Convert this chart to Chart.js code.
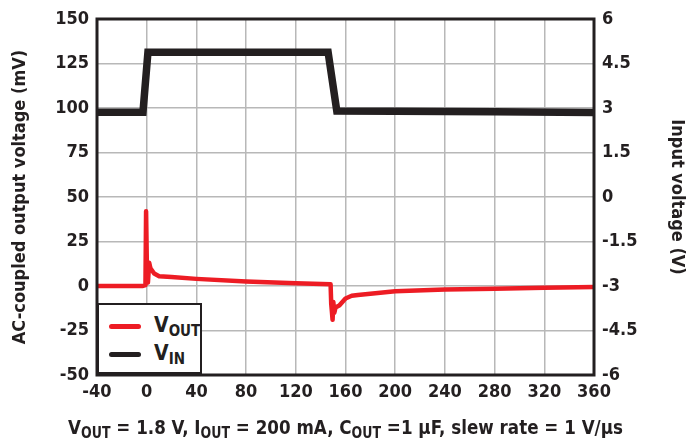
<!DOCTYPE html>
<html>
<head>
<meta charset="utf-8">
<script src="https://cdn.jsdelivr.net/npm/chart.js@4.4.1/dist/chart.umd.min.js"></script>
<style>
  html, body { margin: 0; padding: 0; background: #fff; }
  #wrap { position: relative; width: 691px; height: 446px; }
  canvas { position: absolute; left: 0; top: 0; }
  .narrow { font-family: 'Liberation Sans Narrow', 'DejaVu Sans Condensed', 'Arial Narrow', sans-serif; font-weight: bold; color: #231f20; }
  #xtitle { position: absolute; left: 0; width: 691px; top: 415px; text-align: center; font-size: 20px; transform: scaleX(0.93); transform-origin: 346px 0; }
  #xtitle sub { font-size: 15px; vertical-align: -4px; line-height: 0; }
  #legend { position: absolute; left: 97px; top: 303px; width: 101px; height: 67px; border: 2px solid #231f20; background: #fff; font-size: 21px; }
  #legend .row { position: absolute; left: 10px; height: 24px; }
  #legend .line { position: absolute; left: 0; top: 11px; width: 32px; height: 5px; border-radius: 3px; }
  #legend .lab { position: absolute; left: 45px; top: 0; white-space: nowrap; }
  #legend sub { font-size: 15px; vertical-align: -4px; line-height: 0; }
</style>
</head>
<body>
<div id="wrap">
  <canvas id="chart" width="691" height="446"></canvas>
  <div id="legend" class="narrow">
    <div class="row" style="top:8px"><div class="line" style="background:#ed1c24"></div><div class="lab">V<sub>OUT</sub></div></div>
    <div class="row" style="top:36px"><div class="line" style="background:#231f20"></div><div class="lab">V<sub>IN</sub></div></div>
  </div>
  <div id="xtitle" class="narrow">V<sub>OUT</sub> = 1.8 V, I<sub>OUT</sub> = 200 mA, C<sub>OUT</sub> =1 µF, slew rate = 1 V/µs</div>
</div>
<script>
// Values
const xTicks = [-40, 0, 40, 80, 120, 160, 200, 240, 280, 320, 360];
const leftTicks = [-50, -25, 0, 25, 50, 75, 100, 125, 150];
const rightTicks = [-6, -4.5, -3, -1.5, 0, 1.5, 3, 4.5, 6];

// Input voltage step (V)
const vinTime = [-40, -3, 1, 146, 153, 200, 280, 360];
const vinValues = [2.86, 2.86, 4.88, 4.88, 2.9, 2.89, 2.87, 2.85];

// AC-coupled output voltage (mV)
const voutTime = [-40, -3, -1, -0.5, 0.3, 1, 2, 3, 6, 10, 20, 40, 80, 120, 148, 148.5, 149, 149.6, 150.2, 151, 152, 155, 160, 165, 170, 200, 240, 280, 320, 360];
const voutValues = [0, 0, 0.5, 42, 4, 2, 13, 10, 7, 5.5, 5, 4, 2.5, 1.5, 1, -10, -14, -19, -9, -15, -12, -11, -7, -5.5, -5, -3, -2, -1.5, -1, -0.5];

const FONT = "'Liberation Sans Narrow', 'DejaVu Sans Condensed', 'Arial Narrow', sans-serif";
const INK = '#231f20';

const toPoints = (xs, ys) => xs.map((x, i) => ({ x: x, y: ys[i] }));

// Black frame round the plot area
const framePlugin = {
  id: 'frame',
  afterDraw(chart) {
    const a = chart.chartArea;
    const ctx = chart.ctx;
    ctx.save();
    ctx.strokeStyle = INK;
    ctx.lineWidth = 3;
    ctx.strokeRect(a.left, a.top, a.right - a.left, a.bottom - a.top);
    ctx.restore();
  }
};

new Chart(document.getElementById('chart').getContext('2d'), {
  type: 'line',
  data: {
    datasets: [
      {
        label: 'VIN',
        data: toPoints(vinTime, vinValues),
        yAxisID: 'y1',
        borderColor: INK,
        borderWidth: 7.5,
        pointRadius: 0,
        tension: 0,
      },
      {
        label: 'VOUT',
        data: toPoints(voutTime, voutValues),
        yAxisID: 'y',
        borderColor: '#ed1c24',
        borderWidth: 4.5,
        pointRadius: 0,
        tension: 0,
        borderJoinStyle: 'round',
      },
    ],
  },
  options: {
    responsive: false,
    animation: false,
    layout: { padding: { top: 19 } },
    plugins: {
      legend: { display: false },
      tooltip: { enabled: false },
    },
    scales: {
      x: {
        type: 'linear',
        min: -40,
        max: 360,
        afterBuildTicks: (s) => { s.ticks = xTicks.map(v => ({ value: v })); },
        afterFit: (s) => { s.height = 71; },
        ticks: { color: INK, font: { family: FONT, size: 18, weight: 'bold' }, padding: 7, maxRotation: 0 },
        grid: { color: '#b8b8b8', lineWidth: 1.5, drawTicks: false },
        border: { display: false },
      },
      y: {
        position: 'left',
        min: -50,
        max: 150,
        afterBuildTicks: (s) => { s.ticks = leftTicks.map(v => ({ value: v })); },
        afterFit: (s) => { s.width = 97; },
        ticks: { color: INK, font: { family: FONT, size: 18, weight: 'bold' }, padding: 8 },
        grid: { color: '#b8b8b8', lineWidth: 1.5, drawTicks: false },
        border: { display: false },
        title: { display: true, text: 'AC-coupled output voltage (mV)', color: INK, font: { family: FONT, size: 18, weight: 'bold' }, padding: { top: 10, bottom: 0 } },
      },
      y1: {
        position: 'right',
        min: -6,
        max: 6,
        afterBuildTicks: (s) => { s.ticks = rightTicks.map(v => ({ value: v })); },
        afterFit: (s) => { s.width = 97; },
        ticks: { color: INK, font: { family: FONT, size: 18, weight: 'bold' }, padding: 8 },
        grid: { display: false, drawTicks: false },
        border: { display: false },
        title: { display: true, text: 'Input voltage (V)', color: INK, font: { family: FONT, size: 18, weight: 'bold' }, padding: { top: 4, bottom: 0 } },
      },
    },
  },
  plugins: [framePlugin],
});
</script>
</body>
</html>
